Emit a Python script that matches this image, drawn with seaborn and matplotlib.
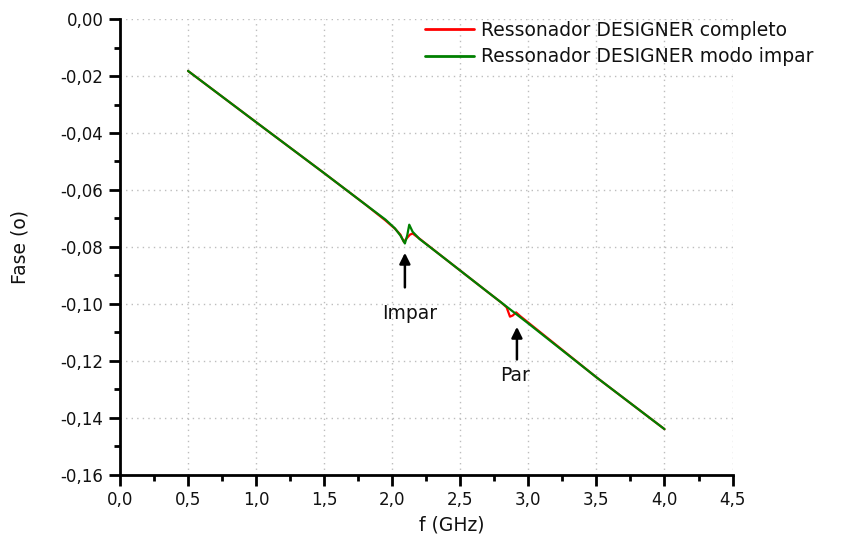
import numpy as np
import pandas as pd
import seaborn as sns
import matplotlib
matplotlib.use("Agg")
import matplotlib.pyplot as plt
from matplotlib.ticker import MultipleLocator, FuncFormatter

# Data
freq_completo = [0.5, 1.0, 1.5, 1.8, 1.95, 2.02, 2.06, 2.085, 2.11, 2.13, 2.15, 2.2,
                 2.4, 2.7, 2.8, 2.84, 2.865, 2.885, 2.91, 2.94, 3.0, 3.5, 4.0]
fase_completo = [-0.0182, -0.0362, -0.0541, -0.0650, -0.0707, -0.0736, -0.0757, -0.0782,
                 -0.0768, -0.0757, -0.0753, -0.0771, -0.0846, -0.0958, -0.0995, -0.1012,
                 -0.1045, -0.1041, -0.1030, -0.1043, -0.1066, -0.1258, -0.1440]

freq_impar = [0.5, 1.0, 1.5, 1.8, 1.95, 2.02, 2.06, 2.093, 2.11, 2.125, 2.15, 2.2,
              2.4, 2.7, 3.0, 3.5, 4.0]
fase_impar = [-0.0182, -0.0362, -0.0541, -0.0650, -0.0704, -0.0735, -0.0760, -0.0788,
              -0.0760, -0.0722, -0.0747, -0.0772, -0.0846, -0.0958, -0.1069, -0.1258, -0.1440]

series_names = ["Ressonador DESIGNER completo", "Ressonador DESIGNER modo impar"]
series_colors = ["#ff0000", "#008000"]

df = pd.concat([
    pd.DataFrame({"f": freq_completo, "fase": fase_completo, "serie": series_names[0]}),
    pd.DataFrame({"f": freq_impar, "fase": fase_impar, "serie": series_names[1]}),
], ignore_index=True)

sns.set_theme(style="white")
plt.rcParams['font.family'] = ['DejaVu Sans']

fig = plt.figure(figsize=(8.43, 5.46), dpi=100)
ax = fig.add_axes([0.1423, 0.1306, 0.869 - 0.1423, 0.965 - 0.1306])

sns.lineplot(data=df, x="f", y="fase", hue="serie", palette=dict(zip(series_names, series_colors)),
             sort=False, estimator=None, linewidth=1.6, ax=ax)

ax.set_xlim(0, 4.5)
ax.set_ylim(-0.16, 0.0)
ax.xaxis.set_major_locator(MultipleLocator(0.5))
ax.xaxis.set_minor_locator(MultipleLocator(0.25))
ax.yaxis.set_major_locator(MultipleLocator(0.02))
ax.yaxis.set_minor_locator(MultipleLocator(0.01))
ax.xaxis.set_major_formatter(FuncFormatter(lambda v, p: f"{v:.1f}".replace(".", ",")))
ax.yaxis.set_major_formatter(FuncFormatter(lambda v, p: f"{v:.2f}".replace(".", ",").replace("-0,00", "0,00")))

for s in ["top", "right"]:
    ax.spines[s].set_visible(False)
for s in ["left", "bottom"]:
    ax.spines[s].set_color("black")
    ax.spines[s].set_linewidth(2)

ax.tick_params(which="major", direction="out", length=8, width=2, color="black",
               labelsize=12, labelcolor="#111111", bottom=True, left=True, pad=4)
ax.tick_params(which="minor", direction="out", length=4, width=2, color="black",
               bottom=True, left=True)

ax.grid(True, which="major", linestyle=(0, (1, 3)), color="#bdbdbd", linewidth=1)
ax.set_axisbelow(True)

ax.set_xlabel("f (GHz)", fontsize=13.5, color="#111111")
ax.set_ylabel("Fase (o)", fontsize=13.5, color="#111111")
ax.xaxis.set_label_coords((452 - 120) / 613, -(516 - 475) / 456)
ax.yaxis.set_label_coords(-(120 - 29) / 613, 0.5)

# Annotations
ax.annotate("", xy=(2.093, -0.0811), xytext=(2.093, -0.0952),
            arrowprops=dict(arrowstyle="-|>", color="black", lw=1.8, mutation_scale=16))
ax.text(2.13, -0.1033, "Impar", ha="center", va="center", fontsize=13.5, color="#111111")
ax.annotate("", xy=(2.916, -0.1071), xytext=(2.916, -0.1205),
            arrowprops=dict(arrowstyle="-|>", color="black", lw=1.8, mutation_scale=16))
ax.text(2.901, -0.1250, "Par", ha="center", va="center", fontsize=13.5, color="#111111")

leg = ax.legend(loc="upper left", bbox_to_anchor=(425 / 843, 1 - 21 / 546),
                bbox_transform=fig.transFigure, frameon=False, fontsize=13.5,
                handlelength=2.6, handletextpad=0.4, labelspacing=0.4, borderpad=0,
                borderaxespad=0)
for text in leg.get_texts():
    text.set_color("#111111")
for line in leg.get_lines():
    line.set_linewidth(2)

fig.savefig("out.png", dpi=100)
